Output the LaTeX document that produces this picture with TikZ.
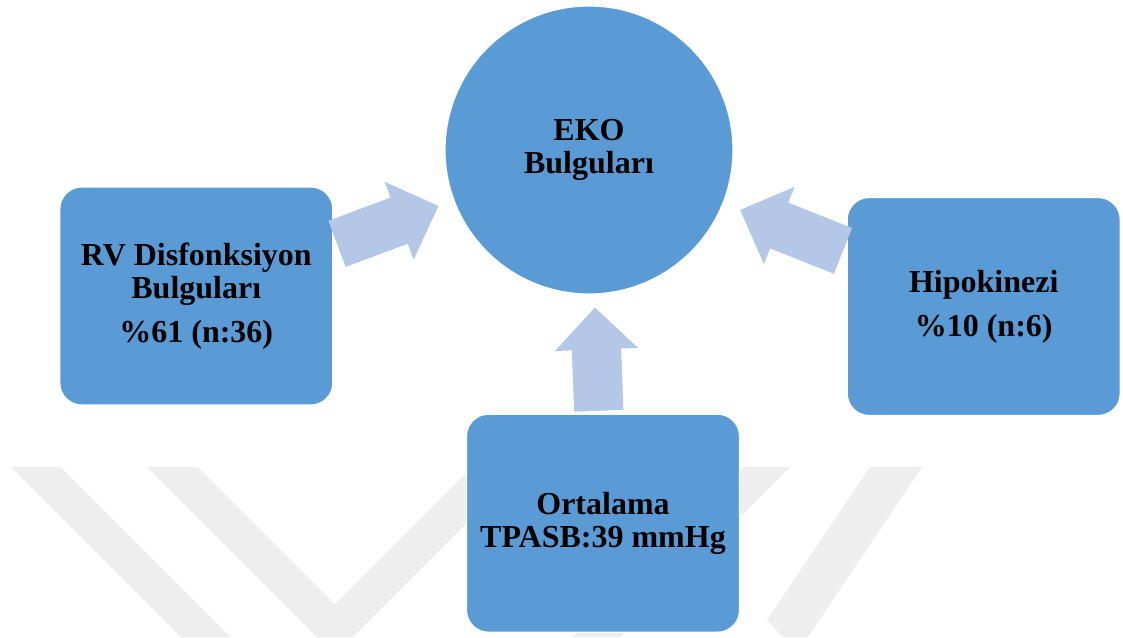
\documentclass[tikz,border=0pt]{standalone}
\usepackage{fontspec}
\setmainfont{Liberation Serif}
\usepackage{tikz}
\usetikzlibrary{arrows.meta,positioning}
\definecolor{Accent}{HTML}{5B9BD5}
\definecolor{PaleAccent}{HTML}{B4C7E7}
\definecolor{Mark}{HTML}{EEEEEE}

\begin{document}
\begin{tikzpicture}[
  x=1pt,y=1pt,
  box/.style={draw=white,line width=1.2pt,fill=Accent,rounded corners=22pt,minimum width=273pt,minimum height=218pt,inner sep=0pt,align=center,font=\fontsize{32}{33}\selectfont\bfseries},
  hub/.style={draw=white,line width=1.2pt,fill=Accent,circle,minimum size=288pt,inner sep=0pt,align=center,font=\fontsize{32}{33}\selectfont\bfseries},
  flow/.style={draw=PaleAccent,line width=49pt,shorten >=#1,-{Triangle[length=42pt,width=83pt,line width=0pt]},
    postaction={draw=PaleAccent,line width=49pt,-,shorten >=#1+30pt}},
  stripe/.style={fill=Mark}
]
\useasboundingbox (0,0) rectangle (1123,-637);
\fill[stripe] (11,-467) -- (61,-467) -- (231,-637) -- (181,-637) -- cycle;
\fill[stripe] (147,-467) -- (198,-467) -- (335,-604) -- (472,-467) -- (523,-467) -- (353,-637) -- (317,-637) -- cycle;
\fill[stripe] (743,-467) -- (790,-467) -- (620,-637) -- (573,-637) -- cycle;
\fill[stripe] (870,-467) -- (922,-467) -- (808,-637) -- (783,-637) -- (767,-620) -- cycle;
\node[hub] (eko) at (589,-150) {EKO\\Bulguları};
\node[box,left=111pt of eko,yshift=-146pt] (rv) {RV Disfonksiyon\\Bulguları\\[11pt]\%61 (n:36)};
\node[box,right=113pt of eko,yshift=-156.5pt] (hipo) {Hipokinezi\\[11pt]\%10 (n:6)};
\node[box,below=119pt of eko,xshift=14pt] (tpasb) {Ortalama\\TPASB:39 mmHg};
\draw[flow=16pt,shorten <=4pt] (rv) -- (eko);
\draw[flow=18pt,shorten <=4pt] (hipo) -- (eko);
\draw[flow=13pt,shorten <=3pt] (tpasb) -- (eko);
\end{tikzpicture}
\end{document}
